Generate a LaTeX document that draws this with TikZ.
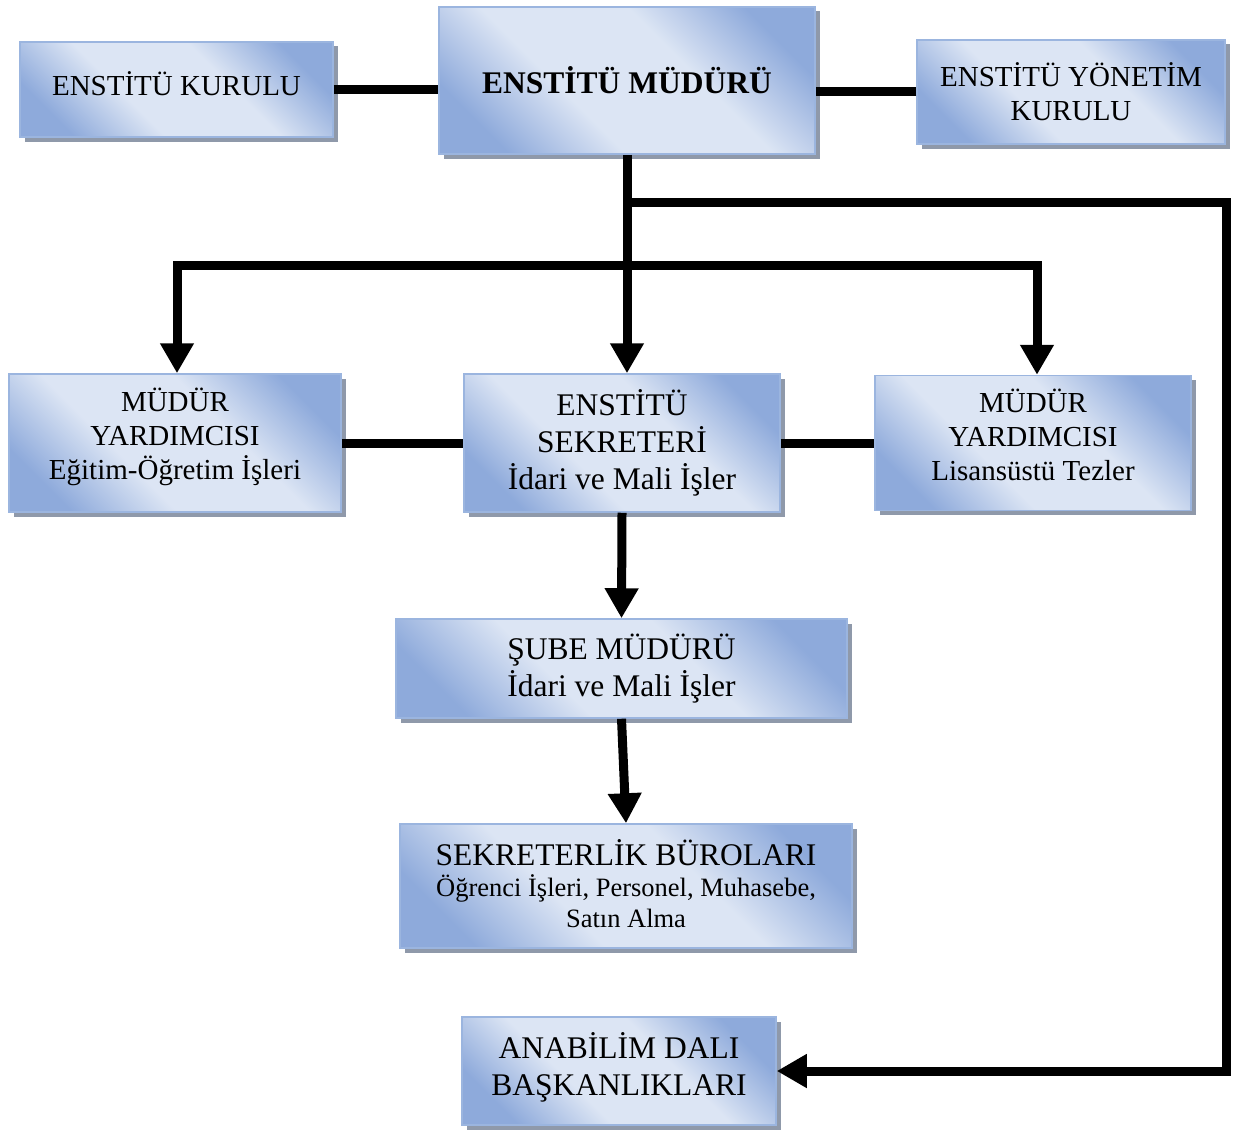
\documentclass[tikz,border=0pt]{standalone}
\usepackage{fontspec}
\setmainfont{Liberation Serif}
\usetikzlibrary{arrows.meta,shadows,calc}
\definecolor{bdark}{HTML}{8EAADB}
\definecolor{blight}{HTML}{DCE5F4}
\definecolor{bborder}{HTML}{9BB5DF}
\definecolor{shgrey}{HTML}{8F99AA}
\pgfdeclarehorizontalshading{boxshade}{100bp}{color(0bp)=(bdark); color(24bp)=(bdark); color(40bp)=(blight); color(60bp)=(blight); color(76bp)=(bdark); color(100bp)=(bdark)}
\tikzset{
  box/.style={draw=bborder, line width=1.5pt, shading=boxshade, shading angle=45,
    drop shadow={shadow xshift=4.5pt, shadow yshift=-4.5pt, fill=shgrey, opacity=1},
    align=center, inner sep=0pt, text=black},
  fa/.style={font=\fontsize{29}{34}\selectfont},
  fb/.style={font=\fontsize{31.5}{37}\selectfont},
  conn/.style={line width=9pt, line join=miter},
  arr/.style={conn, -{Triangle[length=30pt,width=32pt]}},
}
\begin{document}
\begin{tikzpicture}[x=1pt,y=-1pt]
\useasboundingbox (0,0) rectangle (1233,1129);
\node[box,fa,minimum width=313pt,minimum height=95pt,text depth=12pt] (kur) at (176.5,89.5) {ENSTİTÜ KURULU};
\node[box,minimum width=376pt,minimum height=147pt,text height=26pt,font=\fontsize{31.5}{37}\selectfont\bfseries] (mud) at (627,80.5) {ENSTİTÜ MÜDÜRÜ};
\node[box,fa,minimum width=308pt,minimum height=104pt] (yon) at (1071,92) {ENSTİTÜ YÖNETİM\\KURULU};
\node[box,fa,minimum width=332pt,minimum height=138pt,text depth=18pt] (my1) at (175,443) {MÜDÜR\\YARDIMCISI\\Eğitim-Öğretim İşleri};
\node[box,fb,minimum width=316pt,minimum height=138pt] (sek) at (622,443) {ENSTİTÜ\\SEKRETERİ\\İdari ve Mali İşler};
\node[box,fa,minimum width=316pt,minimum height=135pt,text depth=16pt] (my2) at (1033,443) {MÜDÜR\\YARDIMCISI\\Lisansüstü Tezler};
\node[box,fb,minimum width=451pt,minimum height=99pt] (sube) at (621.5,668.5) {ŞUBE MÜDÜRÜ\\İdari ve Mali İşler};
\node[box,minimum width=452pt,minimum height=124pt,text depth=6pt,font=\fontsize{26.5}{31}\selectfont] (buro) at (626,886) {{\fontsize{31.5}{34}\selectfont SEKRETERLİK BÜROLARI}\\[0pt]Öğrenci İşleri, Personel, Muhasebe,\\Satın Alma};
\node[box,fb,minimum width=314pt,minimum height=108pt,text depth=14pt] (ana) at (619,1071) {ANABİLİM DALI\\BAŞKANLIKLARI};
% connectors
\draw[conn] (kur.east) -- (kur.east -| mud.west);
\draw[conn] (yon.west) -- (yon.west -| mud.east);
\coordinate (j1) at (627,202);
\coordinate (rc) at (1226,202);
\coordinate (hl) at (177,265);
\coordinate (hr) at (1037,265);
\draw[arr] (mud.south) -- (mud.south |- sek.north);
\draw[arr] (j1) -- (rc) |- (ana.east);
\draw[conn, {Triangle[length=30pt,width=32pt]}-{Triangle[length=30pt,width=32pt]}] (hl |- my1.north) -- (hl) -- (hr) -- (hr |- my2.north);
\draw[conn] (my1.east) -- (sek.west);
\draw[conn] (sek.east) -- (my2.west);
\draw[arr] (sek.south) -- (sube.north);
\draw[arr] (sube.south) -- (buro.north);
\end{tikzpicture}
\end{document}
